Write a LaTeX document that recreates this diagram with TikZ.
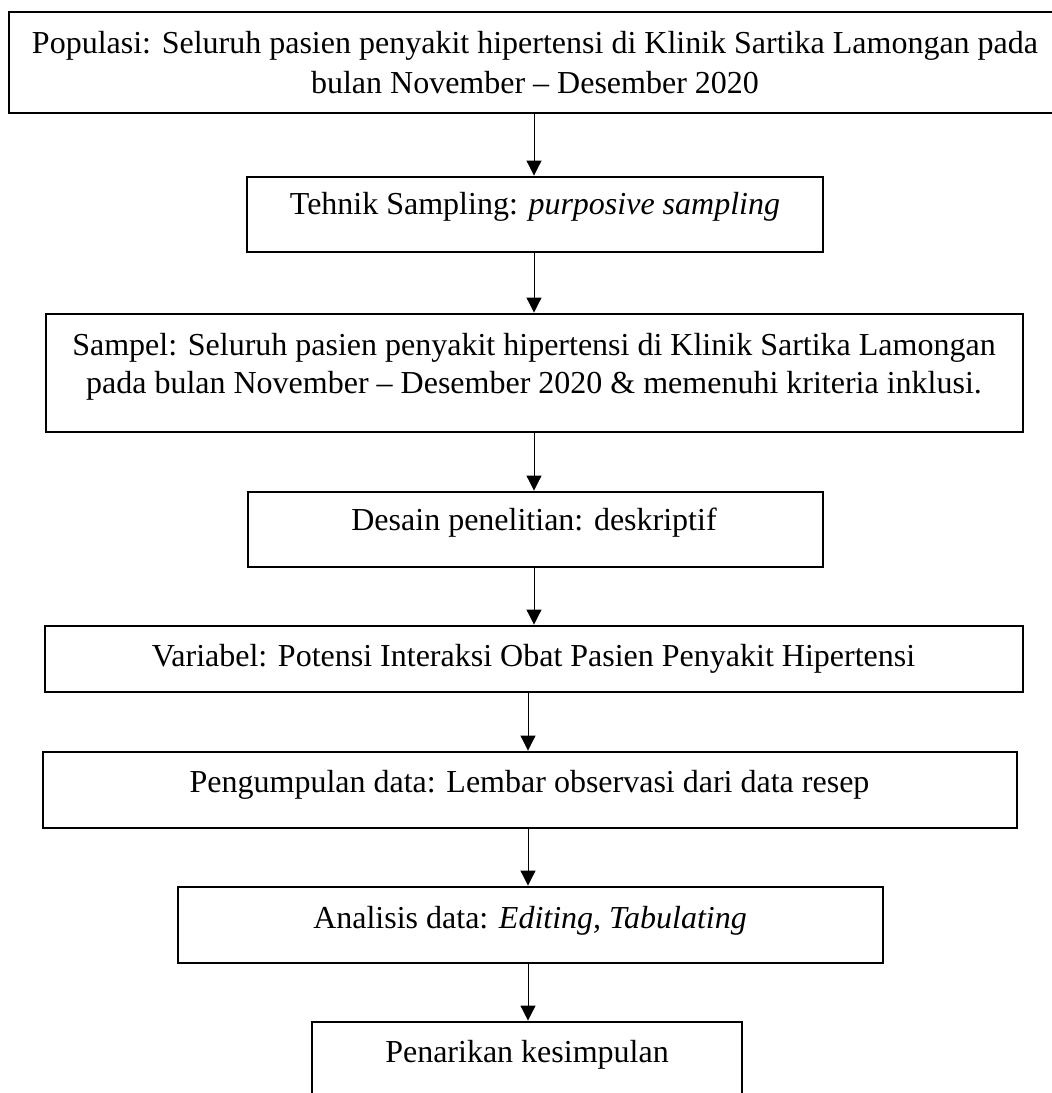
\documentclass[tikz,border=0pt]{standalone}
\usepackage{fontspec}
\setmainfont{Liberation Serif}
\usetikzlibrary{arrows.meta}
\begin{document}
\begin{tikzpicture}[x=1pt,y=-1pt,
  boxnode/.style={draw=black, line width=1.7pt, rectangle, inner sep=0pt, fill=none},
  txt/.style={inner sep=0pt, anchor=base, font=\fontsize{32}{40}\selectfont},
  arr/.style={draw=black, line width=1pt, -{Triangle[length=15pt,width=15pt]}, shorten >=0.6pt}]
\useasboundingbox (0,0) rectangle (1052,1093);
\fill[white] (0,0) rectangle (1052,1093);
% boxes
\node[boxnode, minimum width=1053pt, minimum height=101pt] (b1) at (535.5,62.5) {};
\node[boxnode, minimum width=576pt, minimum height=75pt] (b2) at (535,214.5) {};
\node[boxnode, minimum width=977pt, minimum height=118pt] (b3) at (534.5,373) {};
\node[boxnode, minimum width=575pt, minimum height=75pt] (b4) at (535.5,529.5) {};
\node[boxnode, minimum width=978pt, minimum height=66pt] (b5) at (534,659) {};
\node[boxnode, minimum width=974pt, minimum height=76pt] (b6) at (530,790) {};
\node[boxnode, minimum width=705pt, minimum height=76pt] (b7) at (530.5,925) {};
\node[boxnode, minimum width=430pt, minimum height=120pt] (b8) at (527,1082) {};
% texts
\node[txt] (t1a) at (535,53) {Populasi: Seluruh pasien penyakit hipertensi di Klinik Sartika Lamongan pada};
\node[txt] (t1b) at (535,93) {bulan November -- Desember 2020};
\node[txt] (t2) at (535,214) {Tehnik Sampling: \textit{purposive sampling}};
\node[txt] (t3a) at (534,355) {Sampel: Seluruh pasien penyakit hipertensi di Klinik Sartika Lamongan};
\node[txt] (t3b) at (534,393) {pada bulan November -- Desember 2020 \& memenuhi kriteria inklusi.};
\node[txt] (t4) at (534,530) {Desain penelitian: deskriptif};
\node[txt] (t5) at (533.5,666) {Variabel: Potensi Interaksi Obat Pasien Penyakit Hipertensi};
\node[txt] (t6) at (529.5,792) {Pengumpulan data: Lembar observasi dari data resep};
\node[txt] (t7) at (530,928) {Analisis data: \textit{Editing, Tabulating}};
\node[txt] (t8) at (527,1062) {Penarikan kesimpulan};
% arrow columns
\coordinate (xa) at (534,0);
\coordinate (xb) at (528,0);
\draw[arr] (b1.south -| xa) -- (b2.north -| xa);
\draw[arr] (b2.south -| xa) -- (b3.north -| xa);
\draw[arr] (b3.south -| xa) -- (b4.north -| xa);
\draw[arr] (b4.south -| xa) -- (b5.north -| xa);
\draw[arr] (b5.south -| xb) -- (b6.north -| xb);
\draw[arr] (b6.south -| xb) -- (b7.north -| xb);
\draw[arr] (b7.south -| xb) -- (b8.north -| xb);
\end{tikzpicture}
\end{document}
